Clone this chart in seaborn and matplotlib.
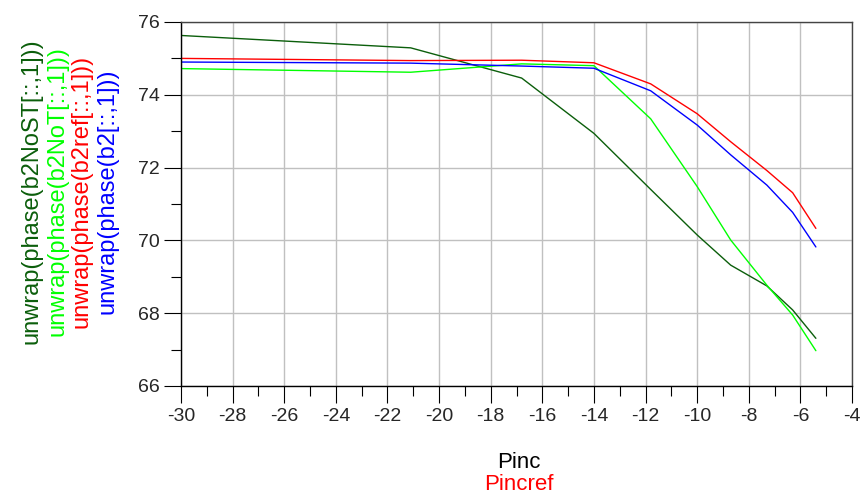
import matplotlib
matplotlib.use("Agg")
import matplotlib.pyplot as plt
import seaborn as sns
import pandas as pd
import numpy as np
from matplotlib.ticker import MultipleLocator

# ---- data ----
pinc = [-30.0, -21.1, -16.8, -14.0, -11.8, -10.0, -8.7, -7.3, -6.3, -5.4]
b2NoST = [75.63, 75.29, 74.46, 72.94, 71.40, 70.15, 69.32, 68.75, 68.09, 67.31]
b2NoT = [74.72, 74.62, 74.85, 74.80, 73.34, 71.48, 70.01, 68.77, 67.95, 66.97]
b2ref = [75.00, 74.94, 74.95, 74.88, 74.30, 73.48, 72.71, 71.92, 71.31, 70.33]
b2 = [74.90, 74.87, 74.79, 74.73, 74.11, 73.17, 72.35, 71.52, 70.77, 69.82]

series_names = ["unwrap(phase(b2NoST[::,1]))", "unwrap(phase(b2NoT[::,1]))",
                "unwrap(phase(b2ref[::,1]))", "unwrap(phase(b2[::,1]))"]
series_vals = [b2NoST, b2NoT, b2ref, b2]
colors = ["#0b5e0b", "#00ff00", "#ff0000", "#0000ff"]

x_ticks = list(range(-30, -3, 2))
y_ticks = list(range(66, 77, 2))

df = pd.DataFrame({
    "Pinc": pinc * len(series_names),
    "value": sum(series_vals, []),
    "series": np.repeat(series_names, len(pinc)),
})

sns.set_style("white")
plt.rcParams["font.family"] = ["Liberation Sans", "DejaVu Sans"]
plt.rcParams["axes.unicode_minus"] = False

fig = plt.figure(figsize=(8.66, 4.96), dpi=100)
ax = fig.add_axes([181 / 866, 1 - 386 / 496, (852 - 181) / 866, (386 - 22) / 496])

sns.lineplot(data=df, x="Pinc", y="value", hue="series", palette=dict(zip(series_names, colors)),
             ax=ax, linewidth=1.0, legend=False, sort=False, estimator=None)

ax.set_xlim(-30, -4)
ax.set_ylim(66, 76)
ax.set_xticks(x_ticks)
ax.set_yticks(y_ticks)
ax.xaxis.set_minor_locator(MultipleLocator(1))
ax.yaxis.set_minor_locator(MultipleLocator(1))
ax.grid(True, which="major", color="#c0c0c0", linewidth=1.0)
ax.set_axisbelow(True)
ax.tick_params(which="major", direction="out", length=12.5, width=0.8, color="black",
               labelsize=14, pad=3, bottom=True, left=True)
ax.tick_params(which="minor", direction="out", length=7.2, width=0.8, color="black",
               bottom=True, left=True)
for s in ["left", "bottom"]:
    ax.spines[s].set_color("black")
    ax.spines[s].set_linewidth(1.0)
for s in ["top", "right"]:
    ax.spines[s].set_color("#444444")
    ax.spines[s].set_linewidth(1.0)
ax.set_xlabel("")
ax.set_ylabel("")

# y-axis labels (stacked rotated texts)
for i, (name, c) in enumerate(zip(series_names, colors)):
    fig.text((32 + i * 25) / 866, 1 - 191 / 496, name, rotation=90, color=c,
             ha="center", va="center", fontsize=17)

# x-axis labels
fig.text(519 / 866, 1 - 463 / 496, "Pinc", color="black", ha="center", va="center", fontsize=16)
fig.text(519 / 866, 1 - 484 / 496, "Pincref", color="#ff0000", ha="center", va="center", fontsize=16)

fig.savefig("out.png", dpi=100)
